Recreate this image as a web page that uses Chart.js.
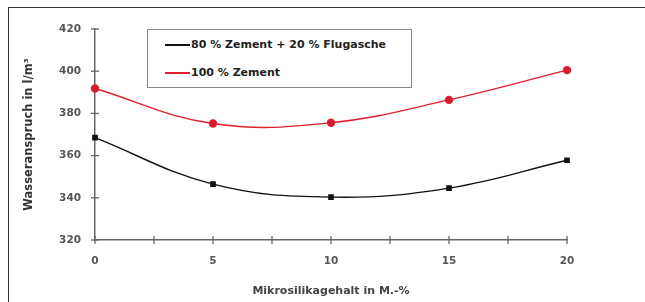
<!DOCTYPE html>
<html><head><meta charset="utf-8">
<script src="https://cdn.jsdelivr.net/npm/chart.js@4"></script>
<style>
html,body{margin:0;padding:0;background:#fff;}
#wrap{position:relative;width:645px;height:302px;overflow:hidden;}
#frame{position:absolute;left:8px;top:7px;width:700px;height:400px;border-left:1px solid #333;border-top:1px solid #333;}
#legend{position:absolute;left:147px;top:29px;width:265px;height:59px;border:1px solid #888;box-sizing:border-box;background:#fff;font:bold 11px "DejaVu Sans",Verdana,sans-serif;color:#222;}
.li{position:absolute;left:17px;display:flex;align-items:center;}
.sw{width:25px;height:2px;margin-right:1px;}
</style></head>
<body><div id="wrap"><div id="frame"></div><canvas id="c" width="645" height="302"></canvas>
<div id="legend"><div class="li" style="top:8px"><span class="sw" style="background:#111"></span>80 % Zement + 20 % Flugasche</div>
<div class="li" style="top:36px"><span class="sw" style="background:#e0202a"></span>100 % Zement</div></div></div>
<script>
const xValues=[0,5,10,15,20];
const seriesFlugasche=[368.5,346.5,340.3,344.6,357.8];
const seriesZement=[391.8,375.2,375.6,386.4,400.5];
const yTicks=[320,340,360,380,400,420];
const xTicks=[0,2.5,5,7.5,10,12.5,15,17.5,20];
const font={family:'"DejaVu Sans", Verdana, sans-serif',weight:'bold',size:10.5};
const crossTicks={id:'crossTicks',afterDraw(ch){const c=ch.ctx;const xs=ch.scales.x,ys=ch.scales.y;c.save();c.strokeStyle='#666';c.lineWidth=1.3;
 const b=ys.bottom,l=xs.left;
 xs.ticks.forEach(t=>{const px=xs.getPixelForValue(t.value);c.beginPath();c.moveTo(px,b-4);c.lineTo(px,b+4);c.stroke();});
 ys.ticks.forEach(t=>{const py=ys.getPixelForValue(t.value);c.beginPath();c.moveTo(l-4,py);c.lineTo(l+4,py);c.stroke();});
 c.restore();}};
new Chart(document.getElementById('c'),{type:'scatter',
data:{datasets:[
{label:'80 % Zement + 20 % Flugasche',data:xValues.map((x,i)=>({x:x,y:seriesFlugasche[i]})),showLine:true,borderColor:'#111',backgroundColor:'#111',borderWidth:1.4,pointStyle:'rect',pointRadius:3,tension:0.4},
{label:'100 % Zement',data:xValues.map((x,i)=>({x:x,y:seriesZement[i]})),showLine:true,borderColor:'#e0202a',backgroundColor:'#d41c34',borderWidth:1.4,pointStyle:'circle',pointRadius:3.5,tension:0.4}
]},
options:{responsive:false,animation:false,clip:false,
layout:{padding:{left:18,top:29,right:78,bottom:0}},
plugins:{legend:{display:false},tooltip:{enabled:false}},
scales:{
x:{type:'linear',min:0,max:20,afterBuildTicks:s=>{s.ticks=xTicks.map(v=>({value:v}));},
 ticks:{callback:v=>(v%5===0?String(v):''),color:'#555',font:font,padding:15,maxRotation:0,autoSkip:false},
 grid:{display:false,drawTicks:false},border:{color:'#666',width:1.5},
 title:{display:true,text:'Mikrosilikagehalt in M.-%',color:'#444',font:{family:font.family,weight:'bold',size:11},padding:{top:10}},
 afterFit:s=>{s.height=62;}},
y:{min:320,max:420,afterBuildTicks:s=>{s.ticks=yTicks.map(v=>({value:v}));},
 ticks:{color:'#555',font:font,padding:14},
 grid:{display:false,drawTicks:false},border:{color:'#666',width:1.5},
 title:{display:true,text:'Wasseranspruch in l/m³',color:'#333',font:{family:font.family,weight:'bold',size:11.5},padding:{bottom:4}},
 afterFit:s=>{s.width=77;}}
}},plugins:[crossTicks]});
</script></body></html>
